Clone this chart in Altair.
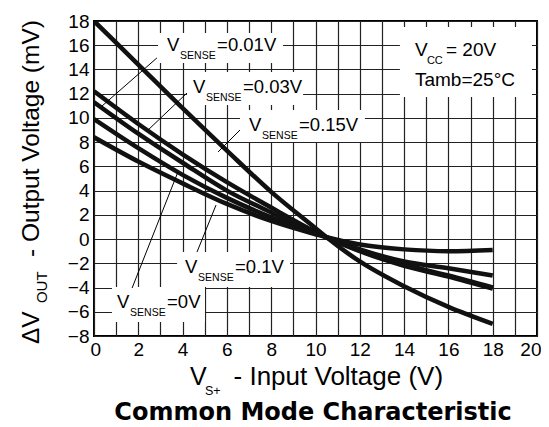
import altair as alt
import pandas as pd

# ---------------- data ----------------
x_points = [0, 2, 4, 6, 8, 10, 10.5, 12, 14, 16, 18]
series_names = ["0.15V", "0.03V", "0.01V", "0V", "0.1V"]
curve_a = [18.0, 14.4, 10.8, 7.3, 3.9, 0.9, 0.15, -1.85, -3.9, -5.6, -7.0]
curve_b = [12.2, 9.5, 7.0, 4.7, 2.6, 0.6, 0.15, -1.0, -2.2, -3.1, -4.1]
curve_c = [11.3, 8.7, 6.3, 4.0, 2.2, 0.55, 0.15, -0.95, -2.1, -3.0, -4.0]
curve_d = [9.9, 7.5, 5.3, 3.4, 1.8, 0.5, 0.15, -0.85, -1.85, -2.4, -3.0]
curve_e = [8.4, 6.4, 4.6, 2.9, 1.5, 0.4, 0.15, -0.45, -0.85, -1.0, -0.9]
curves = [curve_a, curve_b, curve_c, curve_d, curve_e]

x_ticks = list(range(0, 21))
y_ticks = list(range(-8, 19, 2))

# annotation anchors (data units): left of "V", vertical centre
sense_values = ["=0.01V", "=0.03V", "=0.15V", "=0.1V", "=0V"]
sense_x = [3.30, 4.47, 7.00, 4.11, 1.04]
sense_y = [16.02, 12.55, 9.42, -2.30, -5.19]

box_x1 = [2.89, 4.20, 6.59, 3.75, 0.81, 13.81]
box_x2 = [8.53, 9.44, 12.23, 8.85, 5.01, 19.77]
box_y1 = [14.53, 11.07, 8.01, -3.96, -6.85, 11.73]
box_y2 = [17.00, 13.79, 10.65, -1.07, -3.96, 17.50]

lead_x1 = [2.84, 4.20, 6.59, 4.65, 1.72]
lead_y1 = [14.95, 12.06, 9.00, -1.07, -4.04]
lead_x2 = [0.36, 2.44, 5.60, 5.51, 3.79]
lead_y2 = [10.98, 9.00, 7.19, 2.81, 5.54]

# ---------------- layout ----------------
W, H = 443, 315
PX_X = W / 20.0      # pixels per x unit
PX_Y = H / 26.0      # pixels per y unit
FONT = "Liberation Sans"

xs = alt.Scale(domain=[0, 20], nice=False, zero=False)
ys = alt.Scale(domain=[-8, 18], nice=False, zero=False)

rows = []
for name, vals in zip(series_names, curves):
    for xv, yv in zip(x_points, vals):
        rows.append({"series": name, "x": xv, "y": yv})
df = pd.DataFrame(rows)

x_axis = alt.Axis(values=x_ticks, labelExpr="datum.value % 2 == 0 ? datum.label : ''",
                  grid=True, ticks=False, domain=False, title=None,
                  labelFontSize=19, labelFont=FONT, labelColor="black", labelPadding=4,
                  labelFlush=True, labelFlushOffset=4, labelOverlap=False,
                  gridColor="#222", gridWidth=1.2, gridOpacity=1)
y_axis = alt.Axis(values=y_ticks, grid=True, ticks=False, domain=False, title=None,
                  labelFontSize=19, labelFont=FONT, labelColor="black", labelPadding=5,
                  labelFlush=False, labelOverlap=False,
                  gridColor="#222", gridWidth=1.2, gridOpacity=1)


def X(field):
    return alt.X(field, scale=xs, axis=x_axis)


def Y(field):
    return alt.Y(field, scale=ys, axis=y_axis)


lines = alt.Chart(df).mark_line(color="#111", strokeWidth=4.5, interpolate="monotone",
                                clip=True).encode(
    x=X("x:Q"), y=Y("y:Q"), detail="series:N")

boxes_df = pd.DataFrame({"x1": box_x1, "x2": box_x2, "y1": box_y1, "y2": box_y2})
boxes = alt.Chart(boxes_df).mark_rect(fill="white").encode(
    x=X("x1:Q"), x2="x2:Q", y=Y("y1:Q"), y2="y2:Q")

lead_df = pd.DataFrame({"x1": lead_x1, "x2": lead_x2, "y1": lead_y1, "y2": lead_y2})
leaders = alt.Chart(lead_df).mark_rule(color="black", strokeWidth=1).encode(
    x=X("x1:Q"), x2="x2:Q", y=Y("y1:Q"), y2="y2:Q")

# text pieces
big, sub = [], []
for v, ax, ay in zip(sense_values, sense_x, sense_y):
    big.append({"t": "V", "x": ax, "y": ay})
    sub.append({"t": "SENSE", "x": ax + 13 / PX_X, "y": ay - 11 / PX_Y})
    big.append({"t": v, "x": ax + 50 / PX_X, "y": ay})

vcc = [{"t": "V", "x": 14.49, "y": 15.61}, {"t": "= 20V", "x": 15.89, "y": 15.61},
       {"t": "Tamb=25°C", "x": 14.49, "y": 13.13}]
vcc_sub = [{"t": "CC", "x": 15.03, "y": 14.70}]

xt_v = [{"t": "V", "x": 4.33, "y": -11.39}]
xt_rest = [{"t": "- Input Voltage (V)", "x": 6.30, "y": -11.39}]
xt_sub = [{"t": "S+", "x": 5.01, "y": -12.55}]
rot_big = [{"t": "ΔV", "x": -2.80, "y": -8.66}, {"t": "- Output Voltage (mV)", "x": -2.80, "y": -1.48}]
rot_sub = [{"t": "OUT", "x": -2.33, "y": -5.28}]
title_rows = [{"t": "Common Mode Characteristic", "x": 9.89, "y": -14.32}]


def text_layer(data, size, align="left", angle=0, font=FONT, weight="normal"):
    kw = dict(align=align, baseline="middle", fontSize=size, font=font,
              fontWeight=weight, color="black")
    if angle:
        kw["angle"] = angle
    return alt.Chart(pd.DataFrame(data)).mark_text(**kw).encode(
        x=X("x:Q"), y=Y("y:Q"), text="t:N")


layers = [
    boxes, lines, leaders,
    text_layer(big, 18.5),
    text_layer(sub, 10.5),
    text_layer(vcc, 19),
    text_layer(vcc_sub, 11),
    text_layer(xt_v, 25),
    text_layer(xt_rest, 26),
    text_layer(xt_sub, 12.5),
    text_layer(rot_big, 24.5, angle=270),
    text_layer(rot_sub, 15, angle=270),
    text_layer(title_rows, 24, align="center", font="DejaVu Sans", weight="bold"),
]

chart = alt.layer(*layers).properties(
    width=W, height=H,
    autosize=alt.AutoSizeParams(type="none"),
    padding={"left": 86, "top": 13, "right": 4, "bottom": 89},
    background="white",
).configure_view(stroke="black", strokeWidth=2)

chart.save("out.html", embed_options={"renderer": "svg", "actions": False})
